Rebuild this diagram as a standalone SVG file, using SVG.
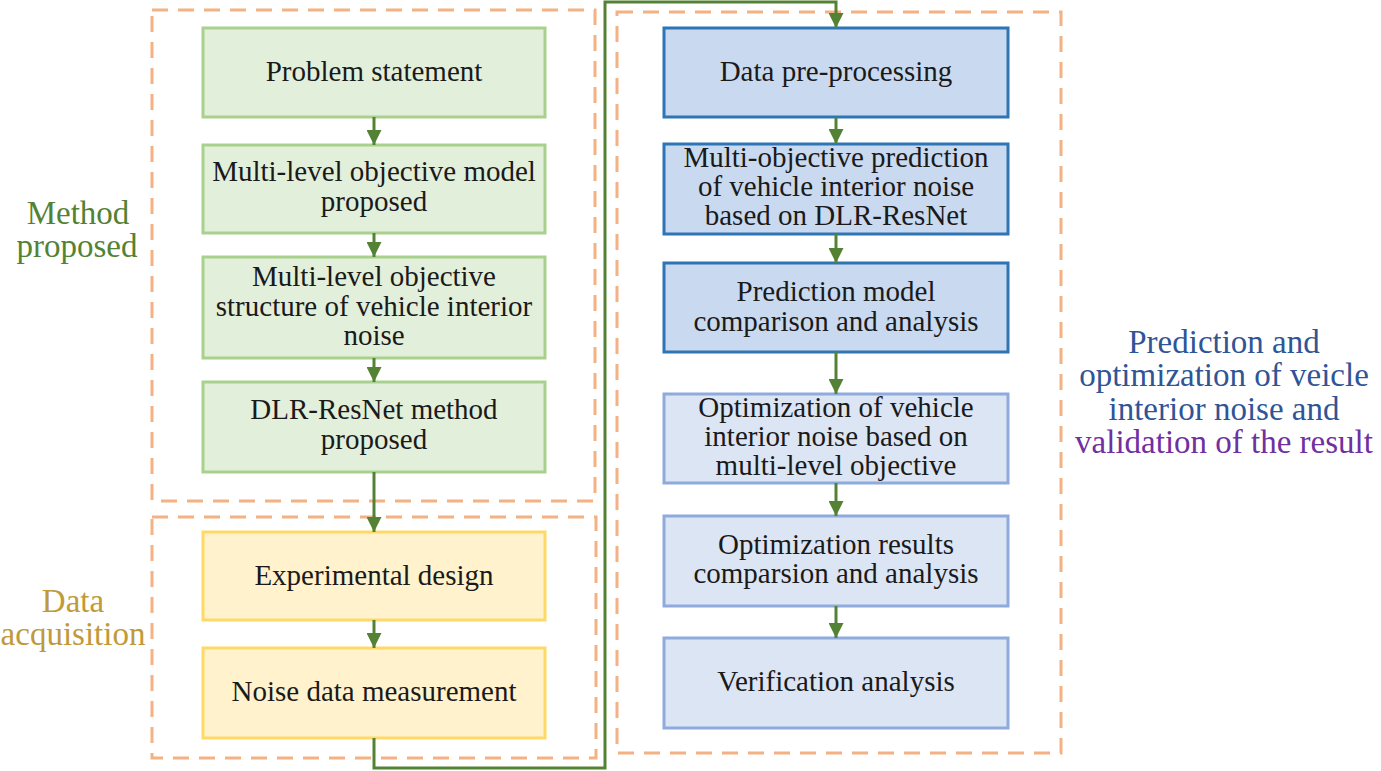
<svg xmlns="http://www.w3.org/2000/svg" width="1381" height="771" viewBox="0 0 1381 771">
<defs>
<marker id="ah" markerWidth="5" markerHeight="5" refX="5" refY="2.5" orient="auto" markerUnits="strokeWidth">
<path d="M0,0 L5,2.5 L0,5 Z" fill="#548235"/>
</marker>
<style>
.dash{fill:none;stroke:#f4b183;stroke-width:3;stroke-dasharray:16,10}
.g{fill:#e2efda;stroke:#a9d18e;stroke-width:3}
.y{fill:#fff2cc;stroke:#ffd966;stroke-width:3}
.b{fill:#c9d9ef;stroke:#2e75b6;stroke-width:3}
.lb{fill:#dce5f4;stroke:#8faadc;stroke-width:3}
.t{fill:#1a1a1a;text-anchor:middle}
.side{text-anchor:middle}
.c{fill:none;stroke:#548235;stroke-width:3}
</style>
</defs>
<rect width="1381" height="771" fill="#ffffff"/>
<g id="frames">
<rect class="dash" x="152" y="10" width="443" height="491"/>
<rect class="dash" x="152" y="517" width="444" height="241"/>
<rect class="dash" x="617" y="12" width="444" height="741"/>
</g>
<g id="labels">
<text class="side" font-family="Liberation Serif" font-size="33" fill="#548235" x="78" y="224">Method</text>
<text class="side" font-family="Liberation Serif" font-size="33" fill="#548235" x="77" y="257">proposed</text>
<text class="side" font-family="Liberation Serif" font-size="33" fill="#c09a3a" x="73" y="612">Data</text>
<text class="side" font-family="Liberation Serif" font-size="33" fill="#c09a3a" x="73" y="645">acquisition</text>
<text class="side" font-family="Liberation Serif" font-size="33" fill="#2f5597" x="1224" y="353">Prediction and</text>
<text class="side" font-family="Liberation Serif" font-size="33" fill="#2f5597" x="1224" y="386">optimization of veicle</text>
<text class="side" font-family="Liberation Serif" font-size="33" fill="#2f5597" x="1224" y="420">interior noise and</text>
<text class="side" font-family="Liberation Serif" font-size="33" fill="#7030a0" x="1224" y="453">validation of the result</text>
</g>
<g id="n1"><rect class="g" x="203" y="28" width="342" height="89"/><text class="t" font-family="Liberation Serif" font-size="29" x="374" y="81">Problem statement</text></g>
<g id="n2"><rect class="g" x="203" y="145" width="342" height="88"/><text class="t" font-family="Liberation Serif" font-size="29" x="374" y="181">Multi-level objective model</text><text class="t" font-family="Liberation Serif" font-size="29" x="374" y="211">proposed</text></g>
<g id="n3"><rect class="g" x="203" y="257" width="342" height="101"/><text class="t" font-family="Liberation Serif" font-size="29" x="374" y="286">Multi-level objective</text><text class="t" font-family="Liberation Serif" font-size="29" x="374" y="316">structure of vehicle interior</text><text class="t" font-family="Liberation Serif" font-size="29" x="374" y="345">noise</text></g>
<g id="n4"><rect class="g" x="203" y="382" width="342" height="90"/><text class="t" font-family="Liberation Serif" font-size="29" x="374" y="419">DLR-ResNet method</text><text class="t" font-family="Liberation Serif" font-size="29" x="374" y="449">proposed</text></g>
<g id="n5"><rect class="y" x="203" y="532" width="342" height="88"/><text class="t" font-family="Liberation Serif" font-size="29" x="374" y="585">Experimental design</text></g>
<g id="n6"><rect class="y" x="203" y="648" width="342" height="90"/><text class="t" font-family="Liberation Serif" font-size="29" x="374" y="701">Noise data measurement</text></g>
<g id="n7"><rect class="b" x="664" y="28" width="344" height="89"/><text class="t" font-family="Liberation Serif" font-size="29" x="836" y="81">Data pre-processing</text></g>
<g id="n8"><rect class="b" x="664" y="144" width="344" height="90"/><text class="t" font-family="Liberation Serif" font-size="29" x="836" y="167">Multi-objective prediction</text><text class="t" font-family="Liberation Serif" font-size="29" x="836" y="196">of vehicle interior noise</text><text class="t" font-family="Liberation Serif" font-size="29" x="836" y="225">based on DLR-ResNet</text></g>
<g id="n9"><rect class="b" x="664" y="263" width="344" height="89"/><text class="t" font-family="Liberation Serif" font-size="29" x="836" y="301">Prediction model</text><text class="t" font-family="Liberation Serif" font-size="29" x="836" y="331">comparison and analysis</text></g>
<g id="n10"><rect class="lb" x="664" y="394" width="344" height="89"/><text class="t" font-family="Liberation Serif" font-size="29" x="836" y="417">Optimization of vehicle</text><text class="t" font-family="Liberation Serif" font-size="29" x="836" y="446">interior noise based on</text><text class="t" font-family="Liberation Serif" font-size="29" x="836" y="475">multi-level objective</text></g>
<g id="n11"><rect class="lb" x="664" y="516" width="344" height="90"/><text class="t" font-family="Liberation Serif" font-size="29" x="836" y="554">Optimization results</text><text class="t" font-family="Liberation Serif" font-size="29" x="836" y="583">comparsion and analysis</text></g>
<g id="n12"><rect class="lb" x="664" y="638" width="344" height="90"/><text class="t" font-family="Liberation Serif" font-size="29" x="836" y="691">Verification analysis</text></g>
<g id="connectors">
<path class="c" d="M374,117 V145" marker-end="url(#ah)"/>
<path class="c" d="M374,233 V257" marker-end="url(#ah)"/>
<path class="c" d="M374,358 V382" marker-end="url(#ah)"/>
<path class="c" d="M374,472 V532" marker-end="url(#ah)"/>
<path class="c" d="M374,620 V648" marker-end="url(#ah)"/>
<path class="c" d="M374,738 V768 H605 V2 H836 V28" marker-end="url(#ah)"/>
<path class="c" d="M836,117 V144" marker-end="url(#ah)"/>
<path class="c" d="M836,234 V263" marker-end="url(#ah)"/>
<path class="c" d="M836,352 V394" marker-end="url(#ah)"/>
<path class="c" d="M836,483 V516" marker-end="url(#ah)"/>
<path class="c" d="M836,606 V638" marker-end="url(#ah)"/>
</g>
</svg>
